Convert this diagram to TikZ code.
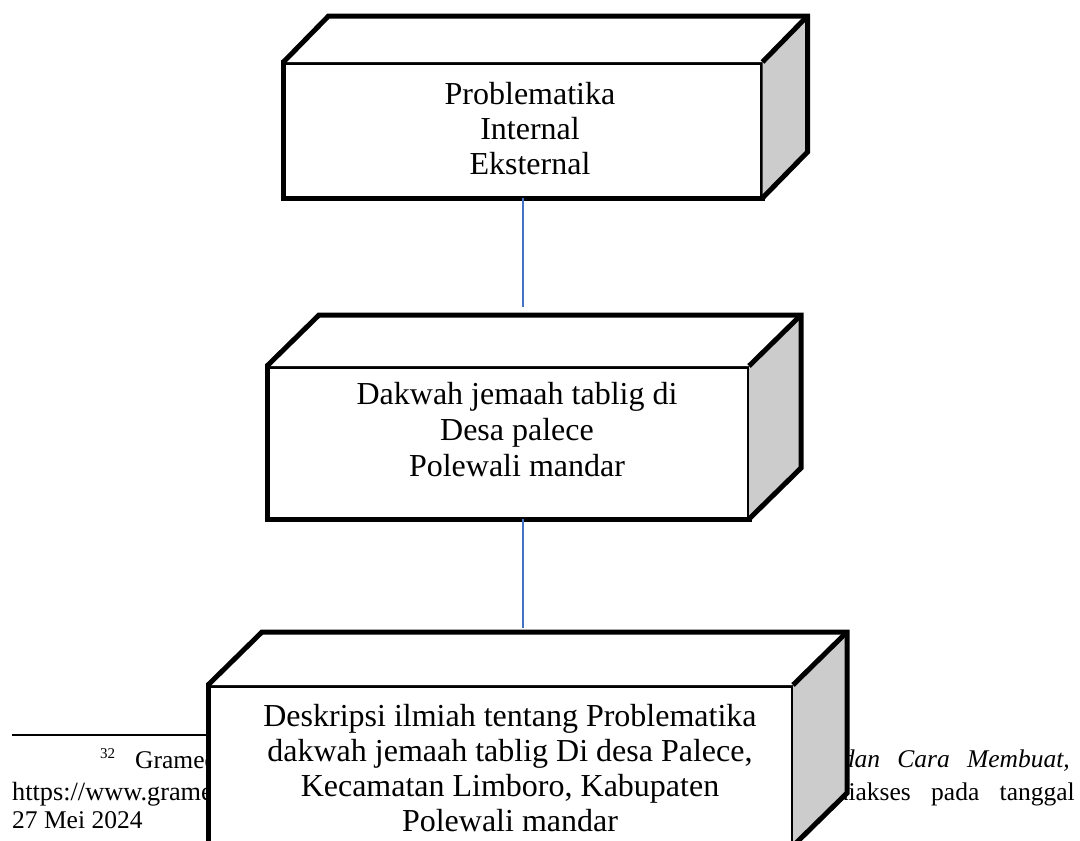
\documentclass[tikz,border=0pt]{standalone}
\usepackage{fontspec}
\setmainfont{Liberation Serif}
\definecolor{sidegray}{RGB}{204,204,204}
\definecolor{linkblue}{RGB}{68,114,196}

\begin{document}
\begin{tikzpicture}[x=1pt, y=-1pt,
  front/.style={draw, line width=5pt, fill=white, outer sep=0pt, inner sep=0pt},
  edge/.style={draw, line width=5pt},
  boxtext/.style={align=center, inner sep=0pt, font=\fontsize{32}{35}\selectfont},
  foot/.style={inner sep=0pt, font=\fontsize{25.5}{30}\selectfont},
  link/.style={linkblue, line width=1.5pt}]
\useasboundingbox (0,0) rectangle (1080,841);

% footnote lying under the last box
\draw[line width=1.8pt] (12,735) -- (250,735);
\node[foot, anchor=base west] (fnA) at (100,768) {{\fontsize{15}{15}\selectfont\raisebox{10pt}{32}}\hspace{20pt}Gramedia,};
\node[foot, anchor=base west, font=\fontsize{26.3}{30}\selectfont] (fnB) at (12,800) {https://www.gramedia.com/};
\node[foot, anchor=base west] (fnC) at (12,828) {27 Mei 2024};
\node[foot, anchor=base east] (fnD) at (1070,767) {\makebox[228pt][s]{\itshape dan Cara Membuat,}};
\node[foot, anchor=base east] (fnE) at (1075,800) {\makebox[239pt][s]{diakses pada tanggal}};

% box 1
\node[front, minimum width=479pt, minimum height=136pt] (prob) at (523,130) {};
\fill[white] (prob.north west) -- ++(45,-46) -- ++(479,0) -- (prob.north east) -- cycle;
\fill[sidegray] (prob.north east) -- ++(45,-46) -- ++(0,136) -- (prob.south east) -- cycle;
\draw[edge] (prob.north west) -- ++(45,-46) -- ++(479,0) -- ++(0,136) -- (prob.south east);
\draw[edge] (prob.north east) -- ++(45,-46);
\node[boxtext] (probtxt) at (530,129) {Problematika\\Internal\\ Eksternal};

% box 2
\node[front, minimum width=482pt, minimum height=153pt] (dakwah) at (508,442.5) {};
\fill[white] (dakwah.north west) -- ++(52,-51) -- ++(482,0) -- (dakwah.north east) -- cycle;
\fill[sidegray] (dakwah.north east) -- ++(52,-51) -- ++(0,153) -- (dakwah.south east) -- cycle;
\draw[edge] (dakwah.north west) -- ++(52,-51) -- ++(482,0) -- ++(0,153) -- (dakwah.south east);
\draw[edge] (dakwah.north east) -- ++(52,-51);
\node[boxtext, font=\fontsize{32}{36}\selectfont] (dakwahtxt) at (517,430) {Dakwah jemaah tablig di\\Desa palece\\Polewali mandar};

% box 3
\node[front, minimum width=585pt, minimum height=161pt] (desk) at (500.5,765.5) {};
\fill[white] (desk.north west) -- ++(54,-53) -- ++(585,0) -- (desk.north east) -- cycle;
\fill[sidegray] (desk.north east) -- ++(54,-53) -- ++(0,161) -- (desk.south east) -- cycle;
\draw[edge] (desk.north west) -- ++(54,-53) -- ++(585,0) -- ++(0,161) -- (desk.south east);
\draw[edge] (desk.north east) -- ++(54,-53);
\node[boxtext] (desktxt) at (510,768.5) {Deskripsi ilmiah tentang Problematika\\dakwah jemaah tablig Di desa Palece,\\Kecamatan Limboro, Kabupaten\\Polewali mandar};

% links
\coordinate (e1) at (523,307);
\coordinate (e2) at (523,628);
\draw[link] (prob.south) -- (e1);
\draw[link] (dakwah.south -| e2) -- (e2);
\end{tikzpicture}
\end{document}
